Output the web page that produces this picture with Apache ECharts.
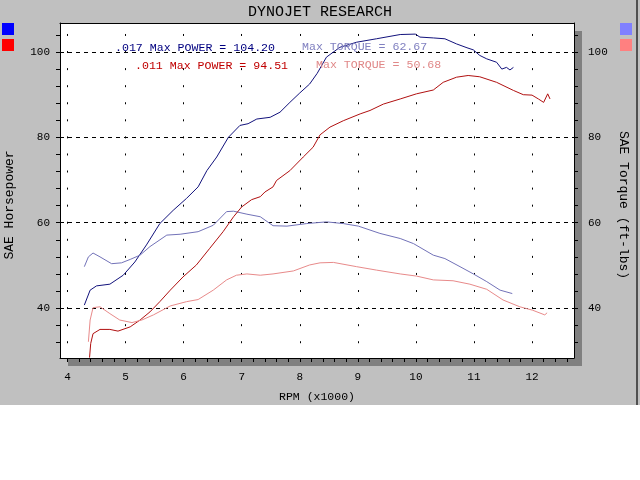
<!DOCTYPE html>
<html>
<head>
<meta charset="utf-8">
<script src="https://cdn.jsdelivr.net/npm/echarts@6/dist/echarts.min.js"></script>
<style>
  html, body { margin: 0; padding: 0; background: #fff; }
  #chart { width: 640px; height: 480px; }
</style>
</head>
<body>
<div id="chart"></div>
<script>
// run .017 (blue) - horsepower and torque vs rpm (x1000)
const blueHpRpm = [4.29, 4.39, 4.50, 4.73, 4.96, 5.16, 5.36, 5.59, 5.82, 6.05, 6.25, 6.40, 6.57, 6.77, 6.97, 7.11, 7.26, 7.49, 7.66, 7.83, 8.00, 8.17, 8.30, 8.46, 8.69, 8.98, 9.32, 9.73, 9.99, 10.07, 10.30, 10.50, 10.70, 10.88, 10.99, 11.10, 11.22, 11.39, 11.48, 11.56, 11.62, 11.68];
const blueHp    = [40.7, 44.2, 45.2, 45.6, 47.7, 50.8, 54.8, 59.8, 62.9, 65.7, 68.4, 72.2, 75.4, 80.0, 82.8, 83.2, 84.3, 84.7, 85.9, 88.2, 90.4, 92.5, 95.0, 98.8, 101.1, 102.3, 103.1, 104.1, 104.2, 103.5, 103.3, 103.1, 101.9, 101.0, 100.5, 99.2, 98.4, 97.6, 96.0, 96.4, 95.8, 96.4];
const blueTqRpm = [4.29, 4.36, 4.44, 4.56, 4.76, 4.93, 5.08, 5.25, 5.42, 5.71, 5.94, 6.25, 6.51, 6.74, 6.86, 7.09, 7.32, 7.54, 7.78, 8.12, 8.46, 8.75, 9.01, 9.38, 9.73, 9.96, 10.30, 10.50, 10.76, 10.99, 11.22, 11.45, 11.66];
const blueTq    = [49.7, 52.0, 52.9, 52.0, 50.4, 50.6, 51.4, 52.4, 54.4, 57.1, 57.3, 57.9, 59.4, 62.6, 62.7, 62.0, 61.4, 59.3, 59.2, 59.8, 60.2, 59.8, 59.2, 57.5, 56.3, 55.1, 52.4, 51.6, 49.7, 48.0, 46.2, 44.2, 43.4];

// run .011 (red)
const redHpRpm = [4.38, 4.40, 4.44, 4.56, 4.73, 4.87, 5.08, 5.25, 5.42, 5.59, 5.77, 5.99, 6.22, 6.45, 6.68, 6.86, 7.00, 7.17, 7.32, 7.40, 7.54, 7.60, 7.83, 8.06, 8.23, 8.35, 8.52, 8.75, 9.04, 9.21, 9.44, 9.73, 10.01, 10.30, 10.47, 10.70, 10.90, 11.10, 11.39, 11.68, 11.85, 12.00, 12.11, 12.20, 12.27, 12.31];
const redHp    = [28.4, 31.7, 34.0, 35.0, 35.0, 34.6, 35.6, 37.2, 39.1, 41.5, 44.2, 47.3, 50.1, 54.0, 57.9, 61.4, 63.7, 65.4, 66.1, 67.2, 68.4, 69.9, 72.2, 75.4, 77.7, 80.6, 82.4, 83.9, 85.5, 86.3, 87.8, 89.0, 90.2, 91.1, 92.9, 94.1, 94.5, 94.2, 92.9, 91.0, 90.0, 89.9, 89.0, 88.2, 90.2, 89.0];
const redTqRpm = [4.36, 4.39, 4.44, 4.56, 4.73, 4.90, 5.11, 5.28, 5.48, 5.77, 6.05, 6.25, 6.51, 6.74, 6.91, 7.09, 7.32, 7.54, 7.89, 8.17, 8.35, 8.58, 8.98, 9.32, 9.73, 10.01, 10.30, 10.64, 10.93, 11.22, 11.50, 11.79, 12.01, 12.22, 12.26];
const redTq    = [32.1, 37.2, 40.1, 40.3, 38.7, 37.2, 36.6, 37.2, 38.4, 40.5, 41.5, 42.0, 44.2, 46.6, 47.7, 48.0, 47.7, 48.0, 48.7, 50.1, 50.6, 50.7, 49.7, 48.9, 48.0, 47.5, 46.6, 46.4, 45.6, 44.4, 41.9, 40.3, 39.5, 38.4, 38.9];

// axis ticks / labels
const xLabels = [4, 5, 6, 7, 8, 9, 10, 11, 12];
const yLabels = [40, 60, 80, 100];
const yTicks = [32, 36, 40, 44, 48, 52, 56, 60, 64, 68, 72, 76, 80, 84, 88, 92, 96, 100, 104];
const xMin = 3.871, xMax = 12.723;
const yMin = 28.3, yMax = 106.8;

const xMinorTicks = [];
for (let i = 0; i <= 43; i++) xMinorTicks.push(+(4 + i * 0.2).toFixed(1));

function zip(xs, ys) {
  return xs.map((x, i) => [x, ys[i]]);
}

const FONT = 'Liberation Mono';

const chart = echarts.init(document.getElementById('chart'));

const yAxisBase = {
  type: 'value',
  min: yMin,
  max: yMax,
  axisLine: { show: true, lineStyle: { color: '#000' } },
  axisTick: { show: true, length: 4, customValues: yTicks, lineStyle: { color: '#000' } },
  axisLabel: { customValues: yLabels, color: '#000', fontFamily: FONT, fontSize: 11 },
  splitLine: { show: false }
};

chart.setOption({
  backgroundColor: '#fff',
  animation: false,
  title: {
    text: 'DYNOJET RESEARCH',
    left: 'center',
    top: 5,
    padding: 0,
    textStyle: { fontFamily: FONT, fontSize: 15, fontWeight: 'normal', color: '#000' }
  },
  grid: {
    left: 60, right: 66, top: 23, bottom: 122,
    show: true,
    backgroundColor: '#fff',
    borderWidth: 0,
    shadowColor: '#808080',
    shadowOffsetX: 8,
    shadowOffsetY: 8,
    shadowBlur: 0
  },
  xAxis: [
    {
      type: 'value',
      min: xMin,
      max: xMax,
      name: 'RPM (x1000)',
      nameLocation: 'middle',
      nameGap: 33,
      nameTextStyle: { fontFamily: FONT, fontSize: 11.5, color: '#000' },
      axisLine: { show: true, lineStyle: { color: '#000' } },
      axisTick: { show: true, length: 4, customValues: xMinorTicks, lineStyle: { color: '#000' } },
      axisLabel: { customValues: xLabels, margin: 14, color: '#000', fontFamily: FONT, fontSize: 11 },
      splitLine: { show: false }
    },
    {
      // top border + vertical dotted grid at every 1000 rpm
      type: 'value',
      min: xMin,
      max: xMax,
      position: 'top',
      axisLine: { show: true, lineStyle: { color: '#000' } },
      axisTick: { show: false, customValues: xLabels },
      axisLabel: { show: false },
      splitLine: { show: true, lineStyle: { color: '#000', width: 1, type: [2, 15.07], dashOffset: 6.1 } }
    }
  ],
  yAxis: [
    Object.assign({}, yAxisBase, { position: 'left', axisLabel: Object.assign({}, yAxisBase.axisLabel, { margin: 10 }) }),
    Object.assign({}, yAxisBase, { position: 'right', axisLabel: Object.assign({}, yAxisBase.axisLabel, { margin: 14 }) }),
    {
      // horizontal dashed grid every 20
      type: 'value',
      min: yMin,
      max: yMax,
      position: 'left',
      axisLine: { show: false },
      axisTick: { show: false, customValues: yLabels },
      axisLabel: { show: false },
      splitLine: { show: true, lineStyle: { color: '#000', width: 1, type: [4, 4] } }
    }
  ],
  graphic: [
    { type: 'rect', z: -10, shape: { x: 0, y: 0, width: 640, height: 405 }, style: { fill: '#c0c0c0' } },
    { type: 'rect', z: -9, shape: { x: 636, y: 0, width: 2, height: 405 }, style: { fill: '#505050' } },
    { type: 'rect', shape: { x: 2, y: 23, width: 12, height: 12 }, style: { fill: '#0000ff' } },
    { type: 'rect', shape: { x: 2, y: 39, width: 12, height: 12 }, style: { fill: '#ff0000' } },
    { type: 'rect', shape: { x: 620, y: 23, width: 12, height: 12 }, style: { fill: '#8080ff' } },
    { type: 'rect', shape: { x: 620, y: 39, width: 12, height: 12 }, style: { fill: '#ff8080' } },
    {
      type: 'text', x: 10, y: 205, rotation: Math.PI / 2,
      style: { text: 'SAE Horsepower', fill: '#000', font: '13px ' + FONT, textAlign: 'center', textVerticalAlign: 'middle' }
    },
    {
      type: 'text', x: 623, y: 205, rotation: -Math.PI / 2,
      style: { text: 'SAE Torque (ft-lbs)', fill: '#000', font: '13px ' + FONT, textAlign: 'center', textVerticalAlign: 'middle' }
    },
    {
      type: 'text', z: 10, x: 115, y: 48,
      style: { text: '.017 Max POWER = 104.20', fill: '#000080', font: '11.6px ' + FONT, textVerticalAlign: 'middle' }
    },
    {
      type: 'text', z: 10, x: 302, y: 47,
      style: { text: 'Max TORQUE = 62.67', fill: '#8080c0', font: '11.6px ' + FONT, textVerticalAlign: 'middle' }
    },
    {
      type: 'text', z: 10, x: 135, y: 66,
      style: { text: '.011 Max POWER = 94.51', fill: '#c00000', font: '11.6px ' + FONT, textVerticalAlign: 'middle' }
    },
    {
      type: 'text', z: 10, x: 316, y: 65,
      style: { text: 'Max TORQUE = 50.68', fill: '#e08888', font: '11.6px ' + FONT, textVerticalAlign: 'middle' }
    }
  ],
  series: [
    {
      name: '.017 Power', type: 'line', xAxisIndex: 0, yAxisIndex: 0,
      showSymbol: false, data: zip(blueHpRpm, blueHp),
      lineStyle: { color: '#12127c', width: 1 }
    },
    {
      name: '.017 Torque', type: 'line', xAxisIndex: 0, yAxisIndex: 1,
      showSymbol: false, data: zip(blueTqRpm, blueTq),
      lineStyle: { color: '#7272b8', width: 1 }
    },
    {
      name: '.011 Power', type: 'line', xAxisIndex: 0, yAxisIndex: 0,
      showSymbol: false, data: zip(redHpRpm, redHp),
      lineStyle: { color: '#b01010', width: 1 }
    },
    {
      name: '.011 Torque', type: 'line', xAxisIndex: 0, yAxisIndex: 1,
      showSymbol: false, data: zip(redTqRpm, redTq),
      lineStyle: { color: '#e88a8a', width: 1 }
    }
  ]
});
</script>
</body>
</html>
